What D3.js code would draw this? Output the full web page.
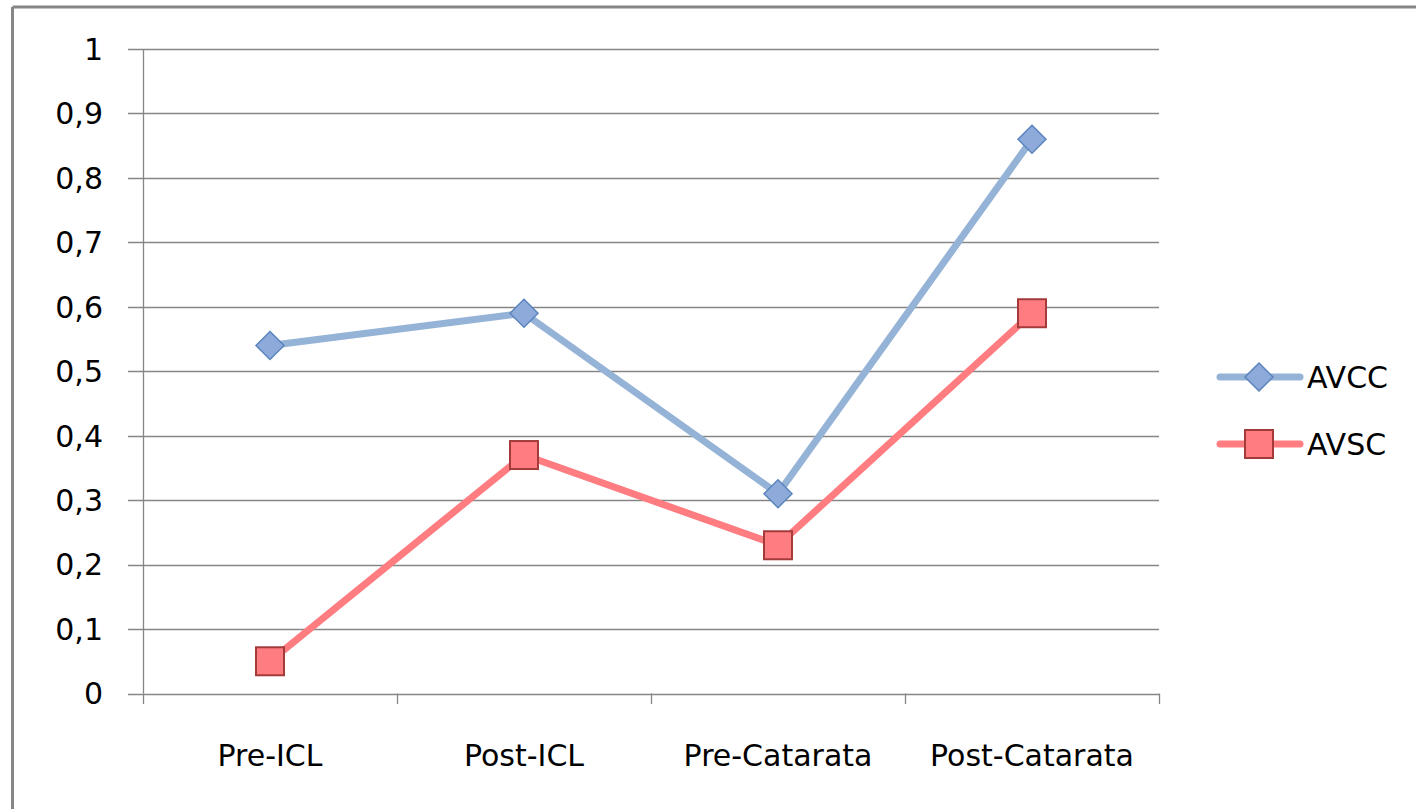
<html>
  <head>
    <meta charset="UTF-8">
    <style>
      body { margin: 0; background: #fff; }
      text { font-family: "DejaVu Sans", sans-serif; fill: #000; }
    </style>
  </head>
  <body>
    <script src="https://d3js.org/d3.v7.min.js"></script>
    <script>

var categories = ["Pre-ICL", "Post-ICL", "Pre-Catarata", "Post-Catarata"];
var avcc = [0.54, 0.59, 0.31, 0.86];
var avsc = [0.05, 0.37, 0.23, 0.59];
var yTicks = [0, 0.1, 0.2, 0.3, 0.4, 0.5, 0.6, 0.7, 0.8, 0.9, 1];

var series = [
    { name: "AVCC", values: avcc, line: "#95b3d7", fill: "#8eaadb", stroke: "#5b84bd", shape: "diamond" },
    { name: "AVSC", values: avsc, line: "#ff7c80", fill: "#ff7c80", stroke: "#a33b3b", shape: "square" }
];

var width = 1416, height = 809;

var svg = d3.select("body").append("svg")
    .attr("width", width).attr("height", height);

// chart frame (only top and left edges visible)
svg.append("line").attr("x1", 12.5).attr("y1", 7).attr("x2", width).attr("y2", 7)
    .attr("stroke", "#868686").attr("stroke-width", 3);
svg.append("line").attr("x1", 12.5).attr("y1", 7).attr("x2", 12.5).attr("y2", height)
    .attr("stroke", "#868686").attr("stroke-width", 3);

var x = d3.scaleBand().domain(categories).range([143, 1159]);
var y = d3.scaleLinear().domain([0, 1]).range([693.5, 49]);

var fmt = function(d) { return d3.format(".1~f")(d).replace(".", ","); };

// gridlines + y ticks
var gy = svg.append("g");
gy.selectAll("line").data(yTicks).enter().append("line")
    .attr("x1", 128).attr("x2", 1159)
    .attr("y1", function(d) { return Math.round(y(d)) + 0.5; })
    .attr("y2", function(d) { return Math.round(y(d)) + 0.5; })
    .attr("stroke", "#868686").attr("stroke-width", 1.3);
gy.selectAll("text").data(yTicks).enter().append("text")
    .attr("x", 103).attr("y", function(d) { return y(d); })
    .attr("dy", "0.36em").attr("text-anchor", "end")
    .style("font-size", "30px")
    .text(fmt);

// y axis line
svg.append("line").attr("x1", 143.5).attr("x2", 143.5).attr("y1", y(1)).attr("y2", y(0))
    .attr("stroke", "#868686").attr("stroke-width", 1.3);

// x axis ticks between categories
var xTickPos = categories.map(function(c) { return x(c); }).concat([x.range()[1]]);
svg.selectAll(".xtick").data(xTickPos).enter().append("line")
    .attr("class", "xtick")
    .attr("x1", function(d) { return Math.round(d) + 0.5; })
    .attr("x2", function(d) { return Math.round(d) + 0.5; })
    .attr("y1", y(0)).attr("y2", 704)
    .attr("stroke", "#868686").attr("stroke-width", 1.3);

svg.selectAll(".xlabel").data(categories).enter().append("text")
    .attr("class", "xlabel")
    .attr("x", function(d) { return x(d) + x.bandwidth() / 2; })
    .attr("y", 766)
    .attr("text-anchor", "middle")
    .style("font-size", "30px")
    .text(function(d) { return d; });

var line = d3.line()
    .x(function(d, i) { return x(categories[i]) + x.bandwidth() / 2; })
    .y(function(d) { return y(d); });

function marker(sel, s) {
    if (s.shape === "diamond") {
        sel.append("path").attr("d", "M0,-14 L14,0 L0,14 L-14,0 Z")
            .attr("fill", s.fill).attr("stroke", s.stroke).attr("stroke-width", 1.5);
    } else {
        sel.append("rect").attr("x", -14).attr("y", -14).attr("width", 28).attr("height", 28)
            .attr("fill", s.fill).attr("stroke", s.stroke).attr("stroke-width", 2);
    }
}

series.forEach(function(s) {
    svg.append("path").datum(s.values)
        .attr("d", line)
        .attr("fill", "none")
        .attr("stroke", s.line)
        .attr("stroke-width", 7)
        .attr("stroke-linejoin", "round");
});

series.forEach(function(s) {
    s.values.forEach(function(v, i) {
        var g = svg.append("g")
            .attr("transform", "translate(" + (x(categories[i]) + x.bandwidth() / 2) + "," + y(v) + ")");
        marker(g, s);
    });
});

// legend
var legend = svg.selectAll(".legend").data(series).enter().append("g")
    .attr("class", "legend")
    .attr("transform", function(d, i) { return "translate(0," + (377 + i * 67) + ")"; });
legend.append("line").attr("x1", 1220).attr("x2", 1300).attr("y1", 0).attr("y2", 0)
    .attr("stroke", function(d) { return d.line; }).attr("stroke-width", 7)
    .attr("stroke-linecap", "round");
legend.each(function(d) {
    var g = d3.select(this).append("g").attr("transform", "translate(1259,0)");
    marker(g, d);
});
legend.append("text").attr("x", 1307).attr("y", 0).attr("dy", "0.36em")
    .style("font-size", "30px")
    .text(function(d) { return d.name; });

    </script>
  </body>
</html>
